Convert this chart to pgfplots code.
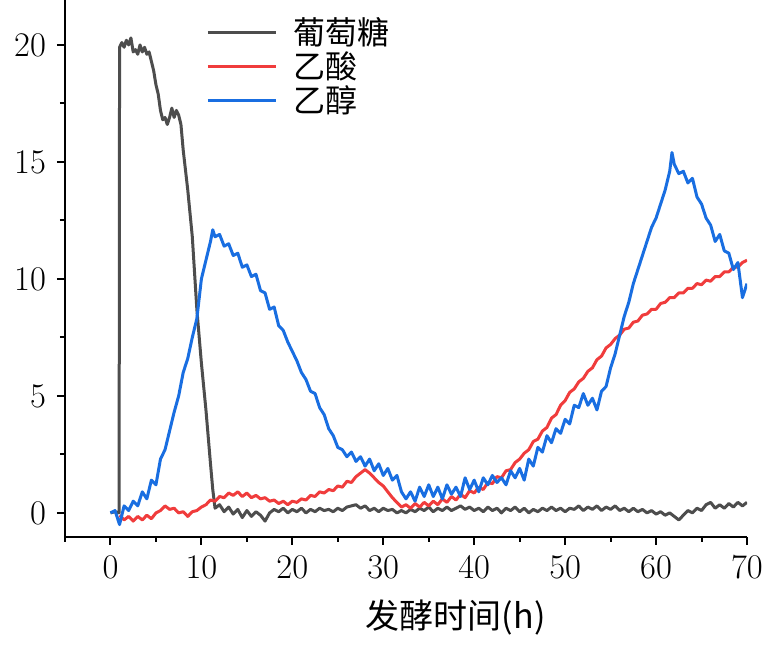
\documentclass[border=0pt]{standalone}
\usepackage{pgfplots}
\pgfplotsset{compat=1.18}
\usepackage{fontspec}
\newfontfamily\cjk{Noto Sans CJK SC}

\definecolor{cGlu}{RGB}{77,77,77}
\definecolor{cAce}{RGB}{240,60,60}
\definecolor{cEth}{RGB}{25,110,225}

\begin{document}
\begin{tikzpicture}
  \begin{axis}[
      scale only axis,
      width=341pt, height=268.5pt,
      xmin=-5, xmax=70,
      ymin=-1.03, ymax=21.92,
      axis x line*=bottom,
      axis y line*=left,
      axis line style={line width=1pt},
      xtick={0,10,...,70},
      minor xtick={-5,5,...,65},
      ytick={0,5,...,20},
      minor ytick={17.5,12.5,7.5,2.5},
      tick align=outside,
      major tick length=4pt,
      minor tick length=2.5pt,
      every tick/.style={line width=1pt, black},
      tick label style={font=\fontsize{16}{18}\selectfont},
      xticklabel style={yshift=-2pt},
      yticklabel style={xshift=-2pt},
      xlabel={\cjk 发酵时间(h)},
      xlabel style={font=\fontsize{17}{20}\selectfont, at={(rel axis cs:0.573,0)},
        anchor=north, inner sep=0pt, yshift=-31pt},
      legend style={draw=none, fill=none, at={(rel axis cs:0.207,0.972)},
        anchor=north west, font=\fontsize{16}{18}\selectfont\cjk,
        row sep=0pt, inner sep=0pt,
        nodes={inner sep=1pt},
        /tikz/every odd column/.append style={column sep=7pt}},
      legend cell align=left,
      legend image code/.code={\draw[#1, line width=1.4pt] (0pt,0pt) -- (34pt,0pt);},
      every axis plot/.append style={line width=1.5pt, line join=round},
    ]
    % glucose
    \addplot[cGlu] coordinates {
      (0.0,0.0) (0.5,0.05) (0.95,0.0) (1.0,19.9) (1.25,20.1) (1.5,19.9) (1.75,20.2)
      (2.0,20.0) (2.25,20.3) (2.5,19.7) (2.75,19.8) (3.0,19.6) (3.25,20.0) (3.5,19.7)
      (3.75,19.9) (4.0,19.6) (4.25,19.7) (4.5,19.3) (4.75,18.9) (5.0,18.3) (5.25,17.9)
      (5.5,17.2) (5.75,16.8) (6.0,16.9) (6.25,16.6) (6.5,16.9) (6.75,17.3) (7.0,16.9)
      (7.25,17.2) (7.5,17.0) (7.75,16.6) (8.0,15.5) (8.5,13.8) (9.0,11.8) (9.5,8.7)
      (10.0,6.4) (10.5,4.4) (11.0,2.1) (11.25,1.0) (11.5,0.2)
      (12.0,0.35) (12.5,0.05) (13.0,0.25) (13.5,-0.05) (14.0,0.15) (14.5,-0.2)
      (15.0,0.1) (15.5,-0.15) (16.0,0.05) (16.5,-0.1) (17.0,-0.35) (17.5,0.0)
      (18.0,0.15) (18.5,0.05) (19.0,0.2) (19.5,0.0) (20.0,0.15) (20.5,0.05)
      (21.0,0.2) (21.5,0.0) (22.0,0.15) (22.5,0.05) (23.0,0.2) (23.5,0.1)
      (24.0,0.15) (24.5,0.05) (25.0,0.2) (25.5,0.1) (26.0,0.25) (26.5,0.3)
      (27.0,0.35) (27.5,0.2) (28.0,0.3) (28.5,0.1) (29.0,0.2) (29.5,0.05)
      (30.0,0.2) (30.5,0.1) (31.0,0.15) (31.5,0.0) (32.0,0.1) (32.5,0.0)
      (33.0,0.15) (33.5,0.05) (34.0,0.2) (34.5,0.1) (35.0,0.25) (35.5,0.05)
      (36.0,0.2) (36.5,0.1) (37.0,0.25) (37.5,0.1) (38.0,0.2) (38.5,0.3)
      (39.0,0.15) (39.5,0.25) (40.0,0.1) (40.5,0.2) (41.0,0.05) (41.5,0.25)
      (42.0,0.1) (42.5,0.2) (43.0,0.0) (43.5,0.2) (44.0,0.1) (44.5,0.25)
      (45.0,0.05) (45.5,0.2) (46.0,0.0) (46.5,0.15) (47.0,0.05) (47.5,0.2)
      (48.0,0.1) (48.5,0.25) (49.0,0.1) (49.5,0.2) (50.0,0.05) (50.5,0.2)
      (51.0,0.15) (51.5,0.3) (52.0,0.1) (52.5,0.25) (53.0,0.15) (53.5,0.3)
      (54.0,0.1) (54.5,0.25) (55.0,0.15) (55.5,0.3) (56.0,0.1) (56.5,0.2)
      (57.0,0.05) (57.5,0.2) (58.0,0.05) (58.5,0.15) (59.0,0.0) (59.5,0.1)
      (60.0,-0.05) (60.5,0.05) (61.0,-0.1) (61.5,0.0) (62.0,-0.15) (62.5,-0.3)
      (63.0,-0.1) (63.5,0.1) (64.0,0.0) (64.5,0.2) (65.0,0.1) (65.5,0.35)
      (66.0,0.45) (66.5,0.2) (67.0,0.35) (67.5,0.2) (68.0,0.4) (68.5,0.25)
      (69.0,0.45) (69.5,0.3) (70.0,0.45)
    };
    \addlegendentry{葡萄糖}
    % acetic acid
    \addplot[cAce] coordinates {
      (1.0,-0.1) (1.5,-0.3) (2.0,-0.15) (2.5,-0.35) (3.0,-0.15) (3.5,-0.3)
      (4.0,-0.1) (4.5,-0.25) (5.0,0.0) (5.5,0.1) (6.0,0.3) (6.5,0.15)
      (7.0,0.2) (7.5,0.0) (8.0,0.05) (8.5,-0.15) (9.0,0.05) (9.5,0.1)
      (10.0,0.25) (10.5,0.35) (11.0,0.55) (11.5,0.5) (12.0,0.7) (12.5,0.65)
      (13.0,0.85) (13.5,0.75) (14.0,0.9) (14.5,0.7) (15.0,0.85) (15.5,0.65)
      (16.0,0.75) (16.5,0.6) (17.0,0.65) (17.5,0.5) (18.0,0.55) (18.5,0.4)
      (19.0,0.5) (19.5,0.35) (20.0,0.5) (20.5,0.45) (21.0,0.6) (21.5,0.55)
      (22.0,0.75) (22.5,0.7) (23.0,0.9) (23.5,0.85) (24.0,1.0) (24.5,0.95)
      (25.0,1.15) (25.5,1.1) (26.0,1.35) (26.5,1.3) (27.0,1.55) (27.5,1.7)
      (28.0,1.85) (28.5,1.7) (29.0,1.5) (29.5,1.3) (30.0,1.15) (30.5,0.9)
      (31.0,0.65) (31.5,0.45) (32.0,0.25) (32.5,0.35) (33.0,0.2) (33.5,0.4)
      (34.0,0.25) (34.5,0.45) (35.0,0.3) (35.5,0.5) (36.0,0.35) (36.5,0.6)
      (37.0,0.45) (37.5,0.7) (38.0,0.55) (38.5,0.8) (39.0,0.65) (39.5,0.95)
      (40.0,0.85) (40.5,1.1) (41.0,1.0) (41.5,1.3) (42.0,1.25) (42.5,1.55)
      (43.0,1.5) (43.5,1.8) (44.0,1.85) (44.5,2.15) (45.0,2.3) (45.5,2.55)
      (46.0,2.7) (46.5,3.05) (47.0,3.15) (47.5,3.5) (48.0,3.65) (48.5,4.05)
      (49.0,4.2) (49.5,4.6) (50.0,4.8) (50.5,5.15) (51.0,5.3) (51.5,5.6)
      (52.0,5.75) (52.5,6.05) (53.0,6.2) (53.5,6.55) (54.0,6.7) (54.5,7.05)
      (55.0,7.2) (55.5,7.45) (56.0,7.6) (56.5,7.85) (57.0,7.9) (57.5,8.15)
      (58.0,8.2) (58.5,8.45) (59.0,8.5) (59.5,8.7) (60.0,8.7) (60.5,8.95)
      (61.0,9.0) (61.5,9.2) (62.0,9.2) (62.5,9.4) (63.0,9.4) (63.5,9.6)
      (64.0,9.6) (64.5,9.8) (65.0,9.75) (65.5,9.95) (66.0,9.9) (66.5,10.1)
      (67.0,10.1) (67.5,10.3) (68.0,10.3) (68.5,10.5) (69.0,10.5) (69.5,10.7)
      (70.0,10.8)
    };
    \addlegendentry{乙酸}
    % ethanol
    \addplot[cEth] coordinates {
      (0.0,0.0) (0.5,0.1) (1.0,-0.5) (1.5,0.3) (2.0,0.1) (2.5,0.5)
      (3.0,0.3) (3.5,0.9) (4.0,0.6) (4.5,1.4) (5.0,1.2) (5.5,2.3)
      (6.0,2.7) (6.5,3.5) (7.0,4.3) (7.5,5.0) (8.0,6.0) (8.5,6.6)
      (9.0,7.5) (9.5,8.3) (10.0,10.0) (10.5,10.8) (11.0,11.6) (11.25,12.1)
      (11.5,11.8) (12.0,11.9) (12.5,11.4) (13.0,11.5) (13.5,11.0) (14.0,11.1)
      (14.5,10.5) (15.0,10.6) (15.5,10.1) (16.0,10.2) (16.5,9.5) (17.0,9.4)
      (17.5,8.7) (18.0,8.8) (18.5,8.0) (19.0,7.8) (19.5,7.3) (20.0,6.9)
      (20.5,6.5) (21.0,6.0) (21.5,5.7) (22.0,5.2) (22.5,5.1) (23.0,4.5)
      (23.5,4.2) (24.0,3.6) (24.5,3.3) (25.0,2.8) (25.5,2.7) (26.0,2.4)
      (26.5,2.6) (27.0,2.2) (27.5,2.4) (28.0,2.0) (28.5,2.3) (29.0,1.8)
      (29.5,2.1) (30.0,1.6) (30.5,1.9) (31.0,1.4) (31.5,1.6) (32.0,0.9)
      (32.5,0.6) (33.0,0.9) (33.5,0.5) (34.0,1.1) (34.5,0.7) (35.0,1.2)
      (35.5,0.7) (36.0,1.1) (36.5,0.6) (37.0,1.2) (37.5,0.8) (38.0,1.1)
      (38.5,0.7) (39.0,1.5) (39.5,1.0) (40.0,1.4) (40.5,0.9) (41.0,1.5)
      (41.5,1.2) (42.0,1.6) (42.5,1.3) (43.0,1.5) (43.5,1.2) (44.0,1.8)
      (44.5,1.5) (45.0,1.9) (45.5,1.4) (46.0,2.3) (46.5,2.0) (47.0,2.8)
      (47.5,2.6) (48.0,3.3) (48.5,3.0) (49.0,3.6) (49.5,3.4) (50.0,4.0)
      (50.5,3.8) (51.0,4.6) (51.5,4.5) (52.0,5.1) (52.5,4.6) (53.0,4.9)
      (53.5,4.4) (54.0,5.2) (54.5,5.4) (55.0,6.2) (55.5,6.8) (56.0,7.6)
      (56.5,8.4) (57.0,9.0) (57.5,9.8) (58.0,10.4) (58.5,11.0) (59.0,11.6)
      (59.5,12.2) (60.0,12.6) (60.5,13.2) (61.0,13.8) (61.5,14.6) (61.75,15.4)
      (62.0,14.9) (62.5,14.5) (63.0,14.6) (63.5,14.1) (64.0,14.3) (64.5,13.5)
      (65.0,13.2) (65.5,12.6) (66.0,12.3) (66.5,11.6) (67.0,11.9) (67.5,11.2)
      (68.0,11.1) (68.5,10.4) (69.0,10.7) (69.5,9.2) (70.0,9.8)
    };
    \addlegendentry{乙醇}
  \end{axis}
  \pgfresetboundingbox
  \path[use as bounding box] ([xshift=-32.5pt,yshift=-55pt]current axis.south west)
    rectangle ([xshift=12pt]current axis.north east);
\end{tikzpicture}
\end{document}
